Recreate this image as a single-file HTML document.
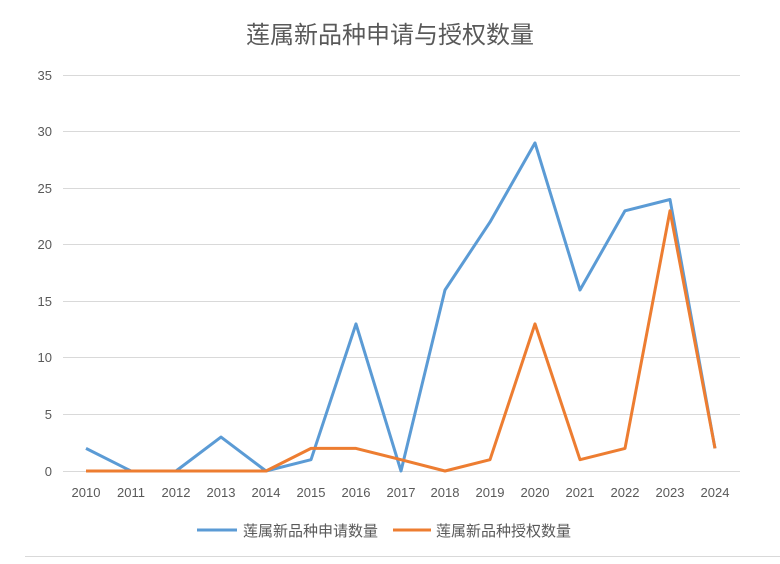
<!DOCTYPE html>
<html><head><meta charset="utf-8"><style>
body{margin:0;background:#fff;}
svg text{font-family:"Liberation Sans","Noto Sans CJK SC",sans-serif;}
</style></head><body>
<svg width="780" height="559" xmlns="http://www.w3.org/2000/svg">
<rect width="780" height="559" fill="#fff"/>
<text x="390" y="43" text-anchor="middle" font-size="24" fill="#595959">莲属新品种申请与授权数量</text>
<g stroke="#d9d9d9" stroke-width="1">
<line x1="63" x2="740" y1="75.5" y2="75.5"/>
<line x1="63" x2="740" y1="131.5" y2="131.5"/>
<line x1="63" x2="740" y1="188.5" y2="188.5"/>
<line x1="63" x2="740" y1="244.5" y2="244.5"/>
<line x1="63" x2="740" y1="301.5" y2="301.5"/>
<line x1="63" x2="740" y1="357.5" y2="357.5"/>
<line x1="63" x2="740" y1="414.5" y2="414.5"/>
<line x1="63" x2="740" y1="471.5" y2="471.5"/>
</g>
<g font-size="13" fill="#595959" text-anchor="end">
<text x="52" y="80">35</text><text x="52" y="136">30</text><text x="52" y="193">25</text><text x="52" y="249">20</text><text x="52" y="306">15</text><text x="52" y="362">10</text><text x="52" y="419">5</text><text x="52" y="476">0</text>
</g>
<g font-size="13" fill="#595959" text-anchor="middle">
<text x="86" y="497">2010</text><text x="131" y="497">2011</text><text x="176" y="497">2012</text><text x="221" y="497">2013</text><text x="266" y="497">2014</text><text x="311" y="497">2015</text><text x="356" y="497">2016</text><text x="401" y="497">2017</text><text x="445" y="497">2018</text><text x="490" y="497">2019</text><text x="535" y="497">2020</text><text x="580" y="497">2021</text><text x="625" y="497">2022</text><text x="670" y="497">2023</text><text x="715" y="497">2024</text>
</g>
<polyline fill="none" stroke="#5b9bd5" stroke-width="3" stroke-linejoin="round" points="86,448.4 131,471 176,471 221,437.1 266,471 311,459.7 356,323.9 401,471 445,290 490,222.1 535,142.9 580,290 625,210.8 670,199.5 715,448.4"/>
<polyline fill="none" stroke="#ed7d31" stroke-width="3" stroke-linejoin="round" points="86,471 131,471 176,471 221,471 266,471 311,448.4 356,448.4 401,459.7 445,471 490,459.7 535,323.9 580,459.7 625,448.4 670,210.8 715,448.4"/>
<line x1="197" x2="237" y1="530" y2="530" stroke="#5b9bd5" stroke-width="3"/>
<text x="243" y="536" font-size="15" fill="#595959">莲属新品种申请数量</text>
<line x1="393" x2="431" y1="530" y2="530" stroke="#ed7d31" stroke-width="3"/>
<text x="436" y="536" font-size="15" fill="#595959">莲属新品种授权数量</text>
<line x1="25" x2="780" y1="556.5" y2="556.5" stroke="#d9d9d9"/>
</svg>
</body></html>
